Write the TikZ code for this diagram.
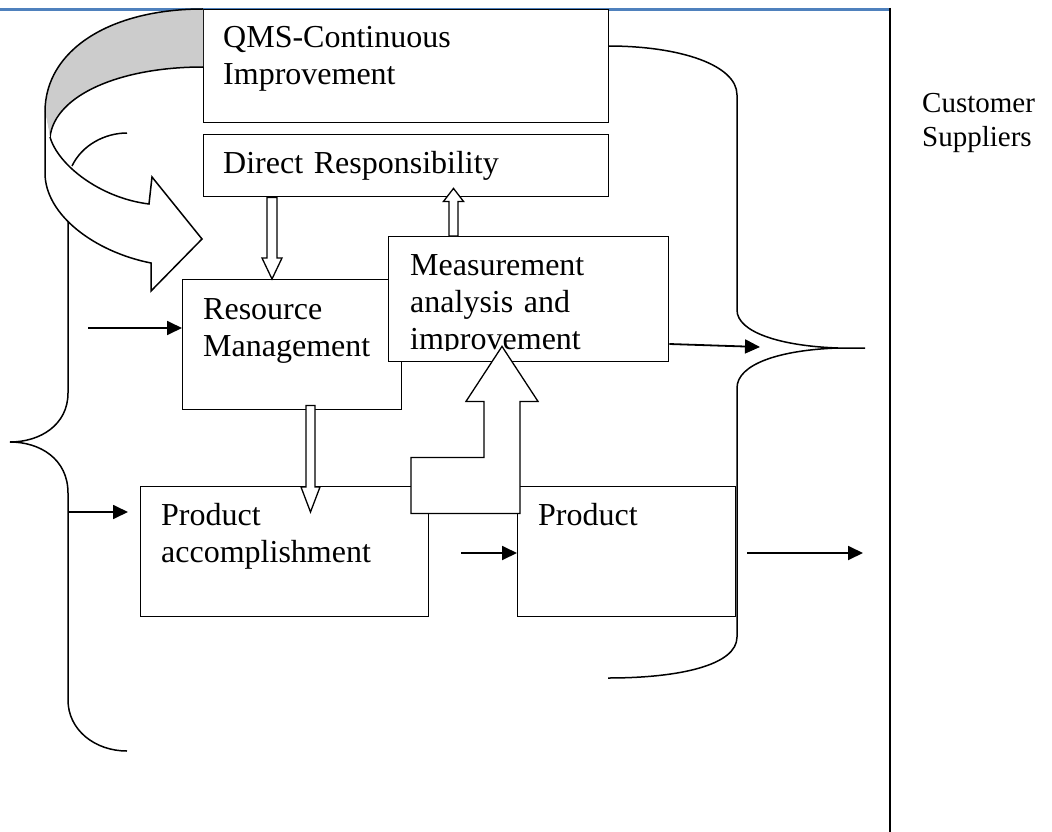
\documentclass[tikz,border=0pt]{standalone}
\usepackage{fontspec}
\setmainfont{Liberation Serif}
\usetikzlibrary{arrows.meta,calc}
\definecolor{wordblue}{RGB}{79,129,189}

\begin{document}
\begin{tikzpicture}[x=1pt,y=-1pt,
    box/.style={rectangle, draw, fill=white, line width=1.4pt, anchor=north west, inner sep=0pt},
    lbl/.style={anchor=base west, align=left, inner sep=0pt, text width=300pt, font=\fontsize{32}{37}\selectfont},
    flow/.style={-{Triangle[length=15pt,width=14pt]}, line width=1.8pt},
    hollow/.style={draw, fill=white, line width=1.3pt, line join=miter},
    brace/.style={line width=1.5pt}
  ]
  \useasboundingbox (0,0) rectangle (1052,832);

  % frame lines
  \draw[wordblue, line width=3pt] (0,9.5) -- (890,9.5);
  \draw[line width=1.5pt] (890,8) -- (890,832);

  % braces
  \draw[brace] (68,195) -- (68,393) .. controls (68,425) and (40,442) .. (10,442)
    .. controls (40,442) and (68,459) .. (68,493) -- (68,700)
    .. controls (68,730) and (95,751) .. (127,751);
  \draw[brace] (608,46) .. controls (680,46) and (737,65) .. (737,95) -- (737,310)
    .. controls (737,332) and (780,346) .. (838,348) -- (865,348);
  \draw[brace] (838,348) .. controls (780,350) and (737,364) .. (737,388) -- (737,637)
    .. controls (737,665) and (680,678) .. (608,678);

  % boxes
  \node[box, minimum width=405pt, minimum height=113pt] (qms) at (203,9) {};
  \node[box, minimum width=405pt, minimum height=62pt] (direct) at (203,134) {};
  \node[box, minimum width=219pt, minimum height=130pt] (resource) at (182,279) {};
  \node[box, minimum width=280pt, minimum height=125pt] (measure) at (388,236) {};
  \node[box, minimum width=288pt, minimum height=130pt] (accomp) at (140,486) {};
  \node[box, minimum width=218pt, minimum height=130pt] (product) at (517,486) {};

  % texts
  \node[lbl] (qmstxt) at ($(qms.north west)+(20,39)$) {QMS-Continuous\\Improvement};
  \node[lbl] (directtxt) at ($(direct.north west)+(20,39)$) {Direct Responsibility};
  \node[lbl] (resourcetxt) at ($(resource.north west)+(21,40)$) {Resource\\Management};
  \begin{scope}
    \clip (measure.north west) rectangle ($(measure.south east)+(0,-12)$);
    \node[lbl] (measuretxt) at ($(measure.north west)+(22,39)$) {Measurement\\analysis and\\improvement};
  \end{scope}
  \node[lbl] (accomptxt) at ($(accomp.north west)+(21,39)$) {Product\\accomplishment};
  \node[lbl] (producttxt) at ($(product.north west)+(21,39)$) {Product};
  \node[lbl, font=\fontsize{29}{34}\selectfont] (cust) at (922,113) {Customer\\Suppliers};

  % input and output arrows
  \coordinate (inR) at (88,328);
  \coordinate (inA) at (68,512);
  \coordinate (outP) at (863,553);
  \coordinate (outM) at (760,347);
  \draw[flow] (inR) -- (resource.west |- inR);
  \draw[flow] (inA) -- ($(accomp.west |- inA)+(-12,0)$);
  \draw[flow] ($(accomp.east |- 0,553)+(32,0)$) -- (product.west |- 0,553);
  \draw[flow] ($(product.east |- outP)+(11,0)$) -- (outP);
  \draw[flow] (measure.east |- 0,344) -- (outM);

  % hollow arrows
  \coordinate (a1s) at (272,0 |- direct.south);
  \coordinate (a1e) at (272,0 |- resource.north);
  \draw[hollow] ($(a1s)+(-5,0)$) -- ($(a1s)+(5,0)$) -- ($(a1e)+(5,-21)$) -- ($(a1e)+(10,-21)$)
    -- (a1e) -- ($(a1e)+(-10,-21)$) -- ($(a1e)+(-5,-21)$) -- cycle;
  \coordinate (a2s) at (453.5,0 |- measure.north);
  \coordinate (a2e) at ($(453.5,0 |- direct.south)+(0,-9)$);
  \draw[hollow] ($(a2s)+(-4.5,0)$) -- ($(a2e)+(-4.5,13)$) -- ($(a2e)+(-10,13)$) -- (a2e)
    -- ($(a2e)+(10,13)$) -- ($(a2e)+(4.5,13)$) -- ($(a2s)+(4.5,0)$) -- cycle;
  \coordinate (a3s) at ($(310.5,0 |- resource.south)+(0,-5)$);
  \coordinate (a3e) at ($(310.5,0 |- accomp.north)+(0,26)$);
  \draw[hollow] ($(a3s)+(-4.5,0)$) -- ($(a3s)+(4.5,0)$) -- ($(a3e)+(4.5,-25)$) -- ($(a3e)+(9.5,-25)$)
    -- (a3e) -- ($(a3e)+(-9.5,-25)$) -- ($(a3e)+(-4.5,-25)$) -- cycle;
  \coordinate (bt) at ($(502,0 |- measure.south)+(0,-16)$);
  \draw[hollow] (bt) -- ++(36,55) -- ++(-18,0) -- ++(0,112) -- ++(-109,0) -- ++(0,-56)
    -- ++(73,0) -- ++(0,-56) -- ++(-18,0) -- cycle;

  % curved arrow
  \fill[gray!40] (203,9) .. controls (110,9) and (45,50) .. (45,112) -- (50,137)
    .. controls (55,95) and (120,67) .. (203,67) -- cycle;
  \draw[brace] (203,9) .. controls (110,9) and (45,50) .. (45,112);
  \draw[brace] (203,67) .. controls (120,67) and (55,95) .. (50,137);
  \filldraw[brace, fill=white, line join=miter] (45,112) -- (45,173) .. controls (45,215) and (95,252) .. (151,263)
    -- (151,291) -- (202,239) -- (152,177) -- (149,204)
    .. controls (100,198) and (58,165) .. (50,137);
  \draw[brace] (72,166) .. controls (82,145) and (105,133) .. (127,133);
\end{tikzpicture}
\end{document}
